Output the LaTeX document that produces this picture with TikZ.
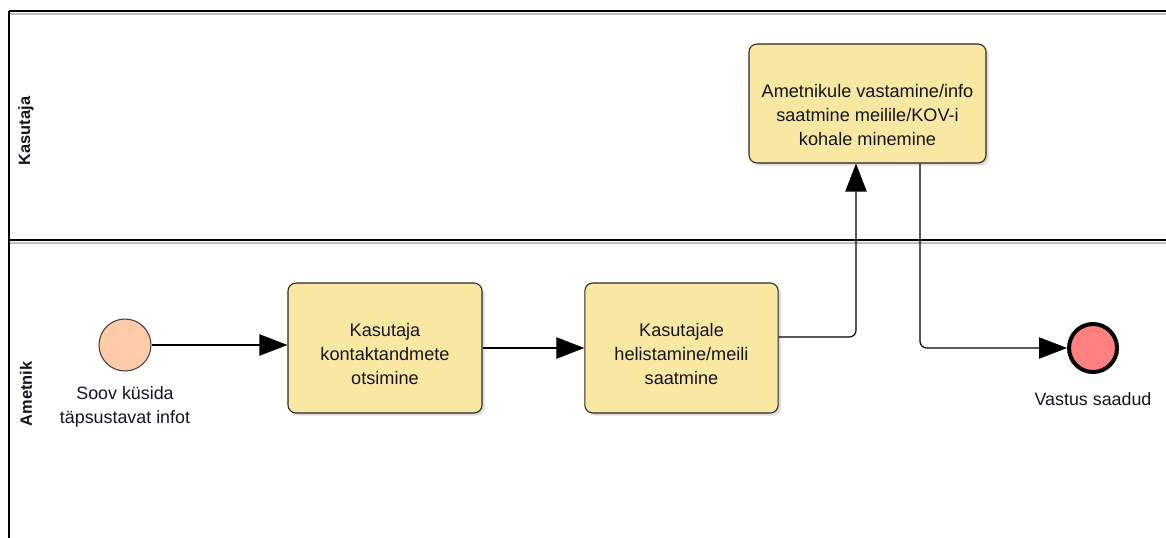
\documentclass[tikz,border=0pt]{standalone}
\usepackage{fontspec}
\setmainfont{Liberation Sans}
\usetikzlibrary{arrows.meta,shadows,positioning}
\definecolor{taskfill}{HTML}{F9E8A2}
\definecolor{startfill}{HTML}{FFCBA8}
\definecolor{endfill}{HTML}{FF8080}
\definecolor{inkc}{HTML}{14141E}
\begin{document}
\begin{tikzpicture}[x=0.75pt,y=-0.75pt,
  pool/.style={line width=2.2pt,draw=black},
  poolshade/.style={line width=1.5pt,draw=black!25},
  lanelabel/.style={rotate=90,font=\bfseries\fontsize{12.3}{14}\selectfont,text=inkc},
  task/.style={rectangle,rounded corners=6pt,draw=black!85,line width=0.8pt,fill=taskfill,
    drop shadow={shadow xshift=2pt,shadow yshift=-2pt,fill=black!22,opacity=0.6}},
  tasktext/.style={align=center,font=\fontsize{13.6}{18}\selectfont,text=inkc},
  startev/.style={circle,draw=black!75,line width=0.8pt,fill=startfill,minimum size=39pt,inner sep=0pt},
  endev/.style={circle,draw=black,line width=3pt,fill=endfill,minimum size=36pt,inner sep=0pt},
  evlabel/.style={align=center,font=\fontsize{13.4}{17.4}\selectfont,text=inkc},
  flow/.style={line width=0.9pt,draw=black,rounded corners=5pt,
    -{Triangle[length=21pt,width=16pt]}}]
\useasboundingbox (0,0) rectangle (1166,537);
\begin{scope}
\clip (0,0) rectangle (1166,537);
% pool frame and lane divider
\draw[poolshade] (10,14) -- (1170,14);
\draw[poolshade] (10,243) -- (1170,243);
\draw[pool] (9,11) -- (1170,11);
\draw[pool] (9,11) -- (9,545);
\draw[pool] (9,240) -- (1170,240);
\end{scope}
% lane names
\node[lanelabel] (laneK) at (26,131) {Kasutaja};
\node[lanelabel] (laneA) at (26,394) {Ametnik};
% flow elements
\node[startev] (start) at (125,345) {};
\node[evlabel,below=8pt of start] (startlbl) {Soov küsida\\täpsustavat infot};
\node[task,minimum width=145.5pt,minimum height=97.5pt,
  label={[tasktext,yshift=-4.5pt]center:Kasutaja\\kontaktandmete\\otsimine}] (t1) at (385,348) {};
\node[task,minimum width=145pt,minimum height=97.5pt,
  label={[tasktext,yshift=-4.5pt]center:Kasutajale\\helistamine/meili\\saatmine}] (t2) at (681.5,348) {};
\node[task,minimum width=177.75pt,minimum height=89.25pt,
  label={[tasktext,yshift=-9pt]center:Ametnikule vastamine/info\\saatmine meilile/KOV-i\\kohale minemine}] (t3) at (867.5,103.5) {};
\node[endev] (end) at (1093,348) {};
\node[evlabel,below=10pt of end] (endlbl) {Vastus saadud};
% sequence flows
\coordinate (t2out) at (t2.east |- 0,337);
\coordinate (t3in) at (856,0);
\coordinate (t3out) at (920,0);
\draw[flow] (start.east) -- (start.east -| t1.west);
\draw[flow] (t1.east) -- (t2.west);
\draw[flow] (t2out) -| (t3in |- t3.south);
\draw[flow] (t3out |- t3.south) |- (end.west);
\end{tikzpicture}
\end{document}
